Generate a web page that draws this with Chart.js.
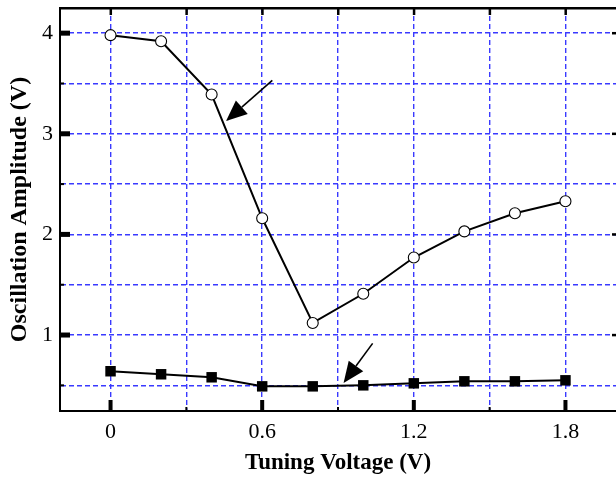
<!DOCTYPE html>
<html>
<head>
<meta charset="utf-8">
<script src="https://cdn.jsdelivr.net/npm/chart.js@4"></script>
<style>
  html, body { margin: 0; padding: 0; background: #fff; overflow: hidden; }
  #wrap { width: 616px; height: 477px; }
</style>
</head>
<body>
<div id="wrap"><canvas id="c" width="616" height="477"></canvas></div>
<script>
// ---- data ----
const tuningVoltage = [0, 0.2, 0.4, 0.6, 0.8, 1.0, 1.2, 1.4, 1.6, 1.8];
const amplitudeOpen = [3.98, 3.92, 3.39, 2.16, 1.12, 1.41, 1.77, 2.03, 2.21, 2.33];
const amplitudeFilled = [0.64, 0.61, 0.58, 0.49, 0.49, 0.50, 0.52, 0.54, 0.54, 0.55];
const xGridTicks = [0, 0.3, 0.6, 0.9, 1.2, 1.5, 1.8];
const xTickLabels = ['0', '', '0.6', '', '1.2', '', '1.8'];
const yGridTicks = [0.5, 1, 1.5, 2, 2.5, 3, 3.5, 4];
const yTickLabels = ['', '1', '', '2', '', '3', '', '4'];
// arrows: [tailX, tailY, tipX, tipY] in data units
const arrowTails = [[0.64, 3.53], [1.037, 0.917]];
const arrowTips = [[0.457, 3.127], [0.922, 0.524]];

const SERIF = '"Liberation Serif", "Times New Roman", serif';

const framePlugin = {
  id: 'frame',
  afterDraw(chart) {
    const ctx = chart.ctx;
    const xs = chart.scales.x, ys = chart.scales.y;
    const a = chart.chartArea;
    ctx.save();
    ctx.fillStyle = '#000';
    // top border
    ctx.fillRect(a.left - 1, a.top - 1, a.right - a.left + 2, 2.5);
    // bottom ticks (inward)
    xGridTicks.forEach((v, i) => {
      const px = xs.getPixelForValue(v);
      if (xTickLabels[i] !== '') {
        ctx.fillRect(px - 2, a.bottom - 11, 4, 11);
      } else {
        ctx.fillRect(px - 1, a.bottom - 4, 2, 4);
      }
      // top ticks
      ctx.fillRect(px - 1, a.top, 2.5, 7);
    });
    // left & right ticks
    yGridTicks.forEach((v, i) => {
      const py = ys.getPixelForValue(v);
      if (yTickLabels[i] !== '') {
        ctx.fillRect(a.left, py - 2.5, 10, 5);
        ctx.fillRect(a.right - 4, py - 1.2, 4, 2.5);
      } else {
        ctx.fillRect(a.left, py - 1, 4, 2);
      }
    });
    // arrows
    ctx.strokeStyle = '#000';
    ctx.lineWidth = 1.6;
    arrowTails.forEach((t, i) => {
      const tip = arrowTips[i];
      const x1 = xs.getPixelForValue(t[0]), y1 = ys.getPixelForValue(t[1]);
      const x2 = xs.getPixelForValue(tip[0]), y2 = ys.getPixelForValue(tip[1]);
      const ang = Math.atan2(y2 - y1, x2 - x1);
      const hl = 21, hw = 9;
      const bx = x2 - hl * Math.cos(ang), by = y2 - hl * Math.sin(ang);
      ctx.beginPath();
      ctx.moveTo(x1, y1);
      ctx.lineTo(bx, by);
      ctx.stroke();
      ctx.beginPath();
      ctx.moveTo(x2, y2);
      ctx.lineTo(bx + hw * Math.sin(ang), by - hw * Math.cos(ang));
      ctx.lineTo(bx - hw * Math.sin(ang), by + hw * Math.cos(ang));
      ctx.closePath();
      ctx.fill();
    });
    ctx.restore();
  }
};

new Chart(document.getElementById('c'), {
  type: 'line',
  data: {
    datasets: [
      {
        data: tuningVoltage.map((x, i) => ({ x, y: amplitudeOpen[i] })),
        borderColor: '#000',
        borderWidth: 2,
        pointStyle: 'circle',
        pointRadius: 5.5,
        pointBackgroundColor: '#fff',
        pointBorderColor: '#000',
        pointBorderWidth: 1.1,
        tension: 0
      },
      {
        data: tuningVoltage.map((x, i) => ({ x, y: amplitudeFilled[i] })),
        borderColor: '#000',
        borderWidth: 2,
        pointStyle: 'rect',
        pointRadius: 7.4,
        pointBackgroundColor: '#000',
        pointBorderColor: '#000',
        pointBorderWidth: 0,
        tension: 0
      }
    ]
  },
  options: {
    responsive: false,
    animation: false,
    layout: { autoPadding: false, padding: { top: 8, right: 0, bottom: 0, left: 0 } },
    plugins: { legend: { display: false }, tooltip: { enabled: false } },
    scales: {
      x: {
        type: 'linear',
        min: -0.2,
        max: 2.0,
        afterBuildTicks: (s) => { s.ticks = xGridTicks.map(v => ({ value: v })); },
        afterFit: (s) => { s.height = 66; s.paddingLeft = 0; s.paddingRight = 0; },
        ticks: {
          autoSkip: false,
          maxRotation: 0,
          padding: 8,
          color: '#000',
          font: { family: SERIF, size: 22 },
          callback: (v, i) => xTickLabels[i]
        },
        grid: { color: '#3a3aff', lineWidth: 1.4, drawTicks: false },
        border: { display: true, color: '#000', width: 2, dash: [5, 3] },
        title: {
          display: true,
          text: 'Tuning Voltage (V)',
          color: '#000',
          font: { family: SERIF, size: 23, weight: 'bold' },
          padding: { top: 0, bottom: 0 }
        }
      },
      y: {
        type: 'linear',
        min: 0.245,
        max: 4.25,
        afterBuildTicks: (s) => { s.ticks = yGridTicks.map(v => ({ value: v })); },
        afterFit: (s) => { s.width = 60; s.paddingTop = 0; s.paddingBottom = 0; },
        ticks: {
          autoSkip: false,
          padding: 7,
          color: '#000',
          font: { family: SERIF, size: 22 },
          callback: (v, i) => yTickLabels[i]
        },
        grid: { color: '#3a3aff', lineWidth: 1.4, drawTicks: false },
        border: { display: true, color: '#000', width: 2, dash: [5, 3] },
        title: {
          display: true,
          text: 'Oscillation Amplitude (V)',
          color: '#000',
          font: { family: SERIF, size: 24, weight: 'bold' },
          padding: { top: 5, bottom: 0 }
        }
      }
    }
  },
  plugins: [framePlugin]
});
</script>
</body>
</html>
